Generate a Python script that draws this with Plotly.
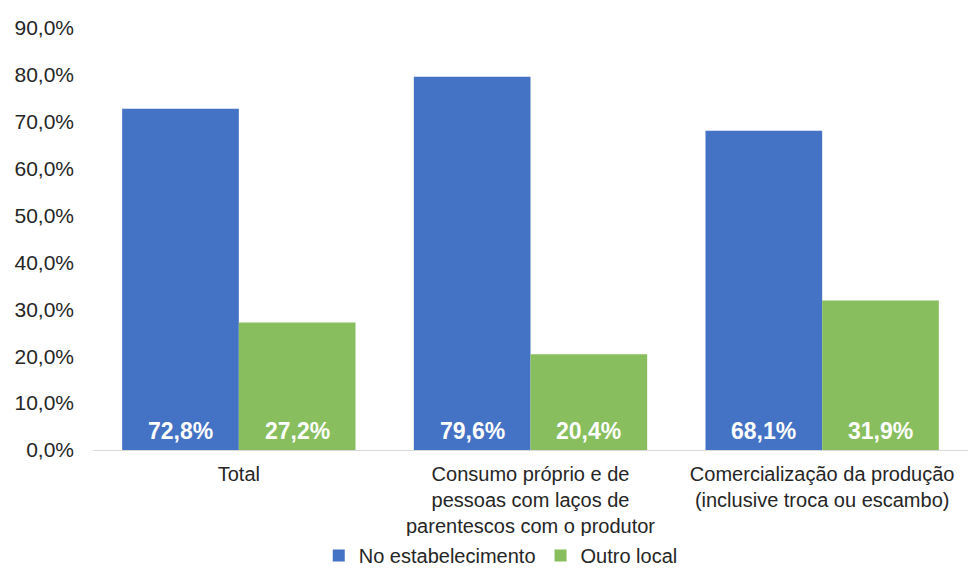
import plotly.graph_objects as go

categories = [
    "Total",
    "Consumo próprio e de<br>pessoas com laços de<br>parentescos com o produtor",
    "Comercialização da produção<br>(inclusive troca ou escambo)",
]
no_estabelecimento = [72.8, 79.6, 68.1]
outro_local = [27.2, 20.4, 31.9]
series_names = ["No estabelecimento", "Outro local"]
colors = ["#4472C4", "#88BE5E"]
y_ticks = [0, 10, 20, 30, 40, 50, 60, 70, 80, 90]
y_tick_labels = [f"{v:.1f}%".replace(".", ",") for v in y_ticks]

font_family = "Liberation Sans, Arial, sans-serif"
text_color = "#262626"

fig = go.Figure()
for name, vals, col in zip(series_names, [no_estabelecimento, outro_local], colors):
    fig.add_trace(go.Bar(
        x=list(range(len(categories))),
        y=vals,
        name=name,
        marker=dict(color=col, line=dict(width=0)),
    ))

# value labels at the base of each bar
bargap = 0.2
bar_w = (1 - bargap) / 2
annotations = []
for s, vals in enumerate([no_estabelecimento, outro_local]):
    offset = (s - 0.5) * bar_w
    for i, v in enumerate(vals):
        annotations.append(dict(
            x=i + offset, y=0, xref="x", yref="y",
            text=f"<b>{v:.1f}%</b>".replace(".", ","),
            showarrow=False, yanchor="bottom", yshift=4,
            font=dict(family=font_family, size=23, color="white"),
        ))

fig.update_layout(
    width=970, height=575,
    margin=dict(l=93, r=2, t=28, b=125, autoexpand=False),
    paper_bgcolor="white", plot_bgcolor="white",
    barmode="group", bargap=bargap, bargroupgap=0,
    font=dict(family=font_family, size=20, color=text_color),
    showlegend=True,
    legend=dict(
        orientation="h", x=0.466, xanchor="center",
        yref="container", y=-0.012, yanchor="bottom",
        font=dict(family=font_family, size=20, color=text_color),
        itemwidth=30, traceorder="normal",
    ),
    annotations=annotations,
)
fig.update_xaxes(
    tickmode="array", tickvals=list(range(len(categories))), ticktext=categories,
    range=[-0.5, len(categories) - 0.5], automargin=False,
    showline=True, linecolor="#D9D9D9", linewidth=1, ticks="",
    showgrid=False, zeroline=False, ticklabelstandoff=6,
    tickfont=dict(size=20, color=text_color),
)
fig.update_yaxes(
    range=[0, 90], tickmode="array", tickvals=y_ticks, ticktext=y_tick_labels,
    showgrid=False, zeroline=False, showline=False, ticks="", automargin=False,
    ticklabelstandoff=18, tickfont=dict(size=21, color=text_color),
)

fig.write_html("out.html")
